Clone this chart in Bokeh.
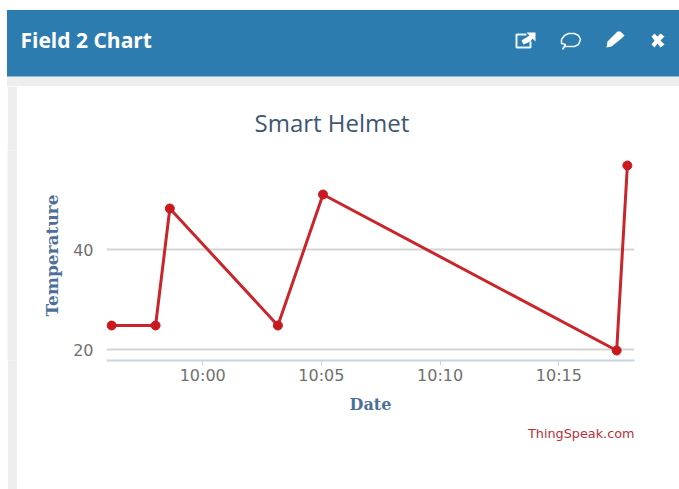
import pandas as pd
from bokeh.plotting import figure
from bokeh.layouts import column, row
from bokeh.models import Title, FixedTicker, DatetimeTickFormatter, Range1d
from bokeh.core.properties import value
from bokeh.embed import file_html
from bokeh.resources import INLINE

# data
times = ["2019-01-01 09:56:10", "2019-01-01 09:58:01", "2019-01-01 09:58:37",
         "2019-01-01 10:03:10", "2019-01-01 10:05:04", "2019-01-01 10:17:26",
         "2019-01-01 10:17:53"]
temperature = [24.8, 24.8, 48.2, 24.8, 51.0, 19.8, 56.8]
x_ticks = ["2019-01-01 10:00", "2019-01-01 10:05", "2019-01-01 10:10", "2019-01-01 10:15"]
y_ticks = [20, 40]
x_limits = ["2019-01-01 09:55:57", "2019-01-01 10:18:11"]
y_limits = [17.8, 59.8]
chart_title = "Smart Helmet"
panel_title = "Field 2 Chart"
credit = "ThingSpeak.com"

def ms(s):
    return pd.Timestamp(s).value / 1e6

def blank(w, h, fill="white", **kw):
    f = figure(width=w, height=h, output_backend="svg", toolbar_location=None,
               x_range=Range1d(0, w), y_range=Range1d(h, 0),
               min_border=0, x_axis_type=None, y_axis_type=None,
               background_fill_color=fill, border_fill_color=fill, **kw)
    f.outline_line_color = None
    f.grid.visible = False
    return f

# header strip
head = blank(679, 86)
head.quad(left=6.5, right=679, top=76, bottom=86, fill_color="#eeeeee", line_color=None)
head.quad(left=6.5, right=679, top=9.5, bottom=76, fill_color="#2d7cb0", line_color=None)
head.text(x=[20], y=[39], text=[panel_title], text_font=value("Open Sans"),
          text_font_style="bold", text_font_size="21px", text_color="white",
          text_baseline="middle")
# external link icon
head.line([526, 516, 516, 530, 530], [34, 34, 47, 47, 41], line_color="#eaf4fa", line_width=2)
head.patch([521, 529, 526, 535, 535, 532, 530, 523], [40, 35, 32, 32, 41, 38, 41, 44], fill_color="white", line_color=None)
# speech bubble
head.line([561, 564, 568, 574, 578, 580, 578, 574, 568, 564, 562, 565, 561, 561],
          [39, 35, 33, 33, 35, 39, 44, 46, 46, 46, 49, 44, 43, 39], line_color="#eaf4fa", line_width=1.6)
# pencil
head.patch([607, 617, 620, 624, 621, 611, 606], [41, 31, 31, 35, 38, 46, 47], fill_color="white", line_color=None)
# cross
head.patch([651, 654, 657, 660, 664, 660, 664, 660, 657, 654, 651, 654],
           [36, 33, 36, 33, 36, 40, 44, 47, 43, 47, 44, 40], fill_color="white", line_color=None)

# left strip
strip = blank(10, 403, fill="#eeeeee", margin=(0, 0, 0, 7))

# chart
p = figure(width=662, height=403, output_backend="svg", toolbar_location=None,
           x_axis_type="datetime",
           x_range=Range1d(ms(x_limits[0]), ms(x_limits[1])),
           y_range=Range1d(*y_limits),
           min_border_left=89, min_border_right=45, min_border_top=64, min_border_bottom=129,
           background_fill_color="white", border_fill_color="white")
p.outline_line_color = None

p.title.text = chart_title
p.title.align = "left"
p.title.offset = 148
p.title.standoff = 23
p.title.text_font = "Open Sans"
p.title.text_font_size = "24px"
p.title.text_font_style = "normal"
p.title.text_color = "#3e576f"

p.add_layout(Title(text=credit, align="right", standoff=14, text_font="DejaVu Sans",
                   text_font_size="12.8px", text_font_style="normal", text_color="#b8303a"), "below")

ax = p.xaxis[0]
ax.ticker = FixedTicker(ticks=[ms(t) for t in x_ticks])
ax.formatter = DatetimeTickFormatter(minutes="%H:%M", hours="%H:%M", minsec="%H:%M", seconds="%H:%M",
                                     context=None)
ax.axis_label = "Date"
ax.axis_label_text_font = "DejaVu Serif"
ax.axis_label_text_font_style = "bold"
ax.axis_label_text_font_size = "16px"
ax.axis_label_text_color = "#4d6f98"
ax.axis_label_standoff = 7
ax.major_label_text_font = "DejaVu Sans"
ax.major_label_text_font_size = "16px"
ax.major_label_text_color = "#707070"
ax.major_label_standoff = 0
ax.axis_line_color = "#c8d4e0"
ax.axis_line_width = 2
ax.major_tick_line_color = "#c8d4e0"
ax.major_tick_in = 0
ax.major_tick_out = 5
ax.minor_tick_line_color = None

ay = p.yaxis[0]
ay.ticker = FixedTicker(ticks=y_ticks)
ay.axis_label = "Temperature"
ay.axis_label_text_font = "DejaVu Serif"
ay.axis_label_text_font_style = "bold"
ay.axis_label_text_font_size = "17px"
ay.axis_label_text_color = "#4d6f98"
ay.axis_label_standoff = 8
ay.major_label_text_font = "DejaVu Sans"
ay.major_label_text_font_size = "16px"
ay.major_label_text_color = "#707070"
ay.major_label_standoff = 7
ay.axis_line_color = None
ay.major_tick_line_color = None
ay.minor_tick_line_color = None

p.xgrid.grid_line_color = None
p.ygrid.grid_line_color = "#d4d4d4"
p.ygrid.grid_line_width = 2

xs = [ms(t) for t in times]
p.line(xs, temperature, line_color="#c9252b", line_width=3)
p.scatter(xs, temperature, size=9, marker="circle", fill_color="#c9191f", line_color="#c9191f")

page = column(head, row(strip, p, spacing=0), spacing=0)
open("out.html", "w").write(file_html(page, INLINE))
